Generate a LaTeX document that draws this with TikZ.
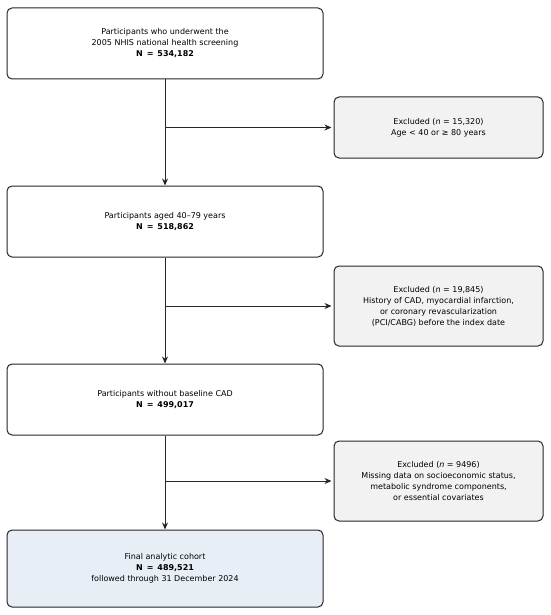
\documentclass[tikz,border=0pt]{standalone}
\usepackage{fontspec}
\setmainfont{DejaVu Sans}
\usetikzlibrary{arrows.meta}
\tikzset{
  mainbox/.style={draw=black!85,line width=1pt,rounded corners=5pt,fill=white,
    minimum width=316pt,minimum height=71pt,align=center,font=\fontsize{8}{11}\selectfont,inner sep=0pt},
  exclbox/.style={mainbox,fill=black!5,minimum width=209pt,minimum height=80pt},
  flow/.style={draw=black!85,line width=1pt,-{Stealth[length=7pt,width=6pt]}}
}
\definecolor{finalfill}{RGB}{232,238,246}
\newcommand{\nn}[1]{\textbf{N\enspace=\enspace#1}}

\begin{document}
\begin{tikzpicture}[x=1pt,y=-1pt]
            \useasboundingbox (0,0) rectangle (550,615);
            \node[mainbox] (b1) at (165,43.5) {Participants who underwent the\\2005 NHIS national health screening\\\nn{534,182}};
            \node[mainbox] (b2) at (165,221.5) {Participants aged 40–79 years\\\nn{518,862}};
            \node[mainbox] (b3) at (165,399.5) {Participants without baseline CAD\\\nn{499,017}};
            \node[mainbox,fill=finalfill,minimum height=77pt] (b4) at (165,568.5) {Final analytic cohort\\\nn{489,521}\\followed through 31 December 2024};
            \node[exclbox,minimum height=61pt] (e1) at (438.5,127.5) {Excluded (\textit{n} = 15,320)\\Age < 40 or ≥ 80 years};
            \node[exclbox] (e2) at (438.5,306) {Excluded (\textit{n} = 19,845)\\History of CAD, myocardial infarction,\\or coronary revascularization\\(PCI/CABG) before the index date};
            \node[exclbox] (e3) at (438.5,481) {Excluded (\textit{n} = 9496)\\Missing data on socioeconomic status,\\metabolic syndrome components,\\or essential covariates};
            \draw[flow] (b1) -- (b2);
            \draw[flow] (b2) -- (b3);
            \draw[flow] (b3) -- (b4);
            \draw[flow] ([xshift=1pt]b1.south |- e1.west) -- ([xshift=-2pt]e1.west);
            \draw[flow] ([xshift=1pt]b2.south |- e2.west) -- ([xshift=-2pt]e2.west);
            \draw[flow] ([xshift=1pt]b3.south |- e3.west) -- ([xshift=-2pt]e3.west);
        \end{tikzpicture}
\end{document}
